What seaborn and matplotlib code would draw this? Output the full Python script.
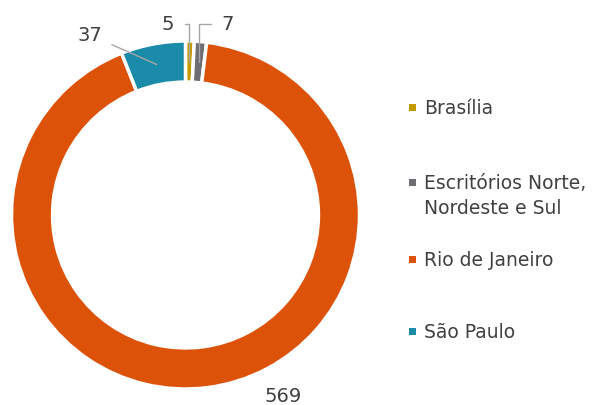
import matplotlib
matplotlib.use("Agg")
import matplotlib.pyplot as plt
from matplotlib.patches import Rectangle
import numpy as np
import seaborn as sns

# data
categories = ["Brasília", "Escritórios Norte,\nNordeste e Sul", "Rio de Janeiro", "São Paulo"]
values = [5, 7, 569, 37]
colors = ["#C49A00", "#6E6E72", "#DD5209", "#1A8BA8"]

sns.set_theme(style="white")
plt.rcParams['font.family'] = ['DejaVu Sans']
txt_color = "#404040"

fig = plt.figure(figsize=(5.92, 4.06), dpi=100)
# donut centre ~ (185.5, 216) px, radius ~174 px
cx, cy, R = 185.5, 216, 174
ax = fig.add_axes([(cx - R) / 592, (406 - cy - R) / 406, 2 * R / 592, 2 * R / 406])

wedges, _ = ax.pie(values, colors=colors, startangle=90, counterclock=False,
                   wedgeprops=dict(width=0.236, edgecolor="white", linewidth=2.5))
ax.set_xlim(-1, 1)
ax.set_ylim(-1, 1)
ax.axis("off")

# value labels (text offsets are layout only)
label_xy = [(-0.10, 1.10), (0.24, 1.10), (0.56, -1.04), (-0.55, 1.035)]
conn = ["angle,angleA=0,angleB=90,rad=0", "angle,angleA=0,angleB=90,rad=0", None, "arc3"]
for w, v, pos, cs in zip(wedges, values, label_xy, conn):
    mid = np.deg2rad((w.theta1 + w.theta2) / 2)
    r = 0.88
    anchor = (r * np.cos(mid), r * np.sin(mid))
    kw = {}
    if cs is not None:
        kw["arrowprops"] = dict(arrowstyle="-", color="#A6A6A6", lw=1,
                                connectionstyle=cs, shrinkA=5, shrinkB=0)
    ax.annotate(str(v), xy=anchor, xytext=pos, ha="center", va="center",
                fontsize=14, color=txt_color, annotation_clip=False, **kw)

# legend drawn entry by entry (Excel-like spacing)
leg_y = [108, 183, 260, 332]
for lab, col, y in zip(categories, colors, leg_y):
    fy = 1 - y / 406
    fig.add_artist(Rectangle((409 / 592, fy - 3.5 / 406), 7 / 592, 7 / 406,
                             transform=fig.transFigure, facecolor=col, edgecolor="none"))
    fig.text(424 / 592, fy + 9 / 406, lab, ha="left", va="top", fontsize=13.5,
             color=txt_color, linespacing=1.4)

fig.savefig("out.png", dpi=100, facecolor="white")
